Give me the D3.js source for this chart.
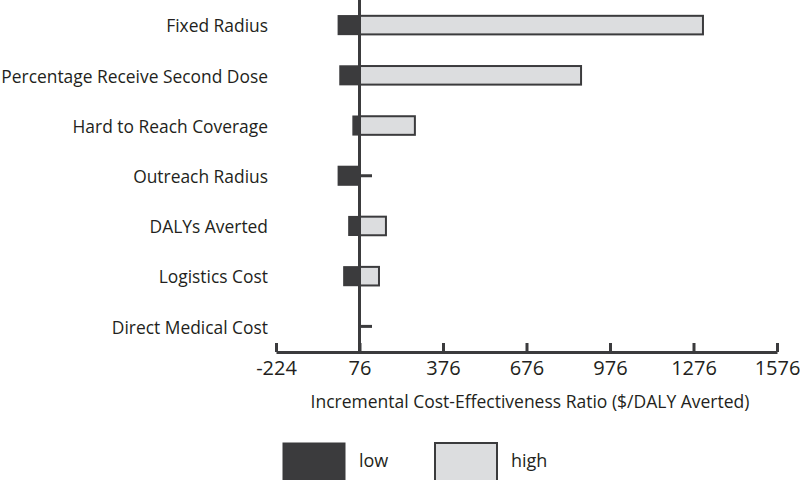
<!DOCTYPE html>
<html><head><meta charset="utf-8">
<script src="https://cdn.jsdelivr.net/npm/d3@7"></script>
<style>body{margin:0;background:#fff;} svg{display:block;}</style>
</head><body>
<svg id="c" width="800" height="480"></svg>
<script>
const parameters = ["Fixed Radius","Percentage Receive Second Dose","Hard to Reach Coverage","Outreach Radius","DALYs Averted","Logistics Cost","Direct Medical Cost"];
const lowValues  = [0, 6, 53, 0, 38, 20, 76];
const highValues = [1310, 872, 275, null, 171, 146, null];
const highStubs  = [null, null, null, 121, null, null, 121];
const baseValue = 76;
const tickValues = [-224, 76, 376, 676, 976, 1276, 1576];
const legendLabels = ["low","high"];

const dark = "#3b3b3d", light = "#dcdddf";
const font = "'Open Sans', sans-serif";
const svg = d3.select("#c");
const x = d3.scaleLinear().domain([-224, 1576]).range([276, 777]);
const y = d3.scaleBand().domain(parameters).range([0, 351.5]).paddingInner(0.63).paddingOuter(0.315);

// bars low
svg.selectAll("rect.low").data(parameters).join("rect")
  .attr("x", (d,i)=>x(Math.min(lowValues[i], baseValue)))
  .attr("width", (d,i)=>Math.abs(x(lowValues[i]) - x(baseValue)))
  .attr("y", d=>y(d)).attr("height", y.bandwidth())
  .attr("fill", dark).attr("stroke", dark).attr("stroke-width", 1.5)
  .attr("display", (d,i)=>lowValues[i]===baseValue?"none":null);
// bars high
svg.selectAll("rect.high").data(parameters).join("rect")
  .attr("x", x(baseValue))
  .attr("width", (d,i)=>highValues[i]==null?0:x(highValues[i]) - x(baseValue))
  .attr("y", d=>y(d)).attr("height", y.bandwidth())
  .attr("fill", light).attr("stroke", dark).attr("stroke-width", 2)
  .attr("display", (d,i)=>highValues[i]==null?"none":null);
// stubs
svg.selectAll("line.stub").data(parameters.filter((d,i)=>highStubs[i]!=null)).join("line")
  .attr("x1", x(baseValue)).attr("x2", d=>x(highStubs[parameters.indexOf(d)]))
  .attr("y1", d=>y(d)+y.bandwidth()/2).attr("y2", d=>y(d)+y.bandwidth()/2)
  .attr("stroke", dark).attr("stroke-width", 3);

// vertical base line
svg.append("line").attr("x1", x(baseValue)).attr("x2", x(baseValue)).attr("y1", 0).attr("y2", 352)
  .attr("stroke", dark).attr("stroke-width", 3);

// x axis
const ax = svg.append("g").attr("transform","translate(0,352)")
  .call(d3.axisBottom(x).tickValues(tickValues).tickSizeInner(-9).tickSizeOuter(0).tickFormat(d=>String(d)));
ax.select(".domain").attr("stroke", dark).attr("stroke-width", 3);
ax.selectAll(".tick line").attr("stroke", dark).attr("stroke-width", 3);
ax.selectAll(".tick text").attr("y", 9).attr("dy", "0.71em").attr("fill", "#231f20")
  .style("font-family", font).style("font-size", "20px");

// category labels
svg.selectAll("text.cat").data(parameters).join("text")
  .attr("x", 268).attr("y", d=>y(d)+y.bandwidth()/2).attr("dy","0.42em")
  .attr("text-anchor","end").attr("fill","#231f20")
  .style("font-family", font).style("font-size","17.4px").text(d=>d);

// axis title
svg.append("text").attr("x", 530).attr("y", 402).attr("dy","0.35em").attr("text-anchor","middle")
  .attr("fill","#231f20").style("font-family", font).style("font-size","17.5px")
  .text("Incremental Cost-Effectiveness Ratio ($/DALY Averted)");

// legend
const lg = [{x:283, fill:dark, sw:1}, {x:435, fill:light, sw:2}];
lg.forEach((l,i)=>{
  svg.append("rect").attr("x", l.x).attr("y", 443).attr("width", 62).attr("height", 40)
    .attr("fill", l.fill).attr("stroke", dark).attr("stroke-width", l.sw);
  svg.append("text").attr("x", l.x + 76).attr("y", 461).attr("dy","0.35em")
    .attr("fill","#231f20").style("font-family", font).style("font-size","18px").text(legendLabels[i]);
});
</script>
</body></html>
